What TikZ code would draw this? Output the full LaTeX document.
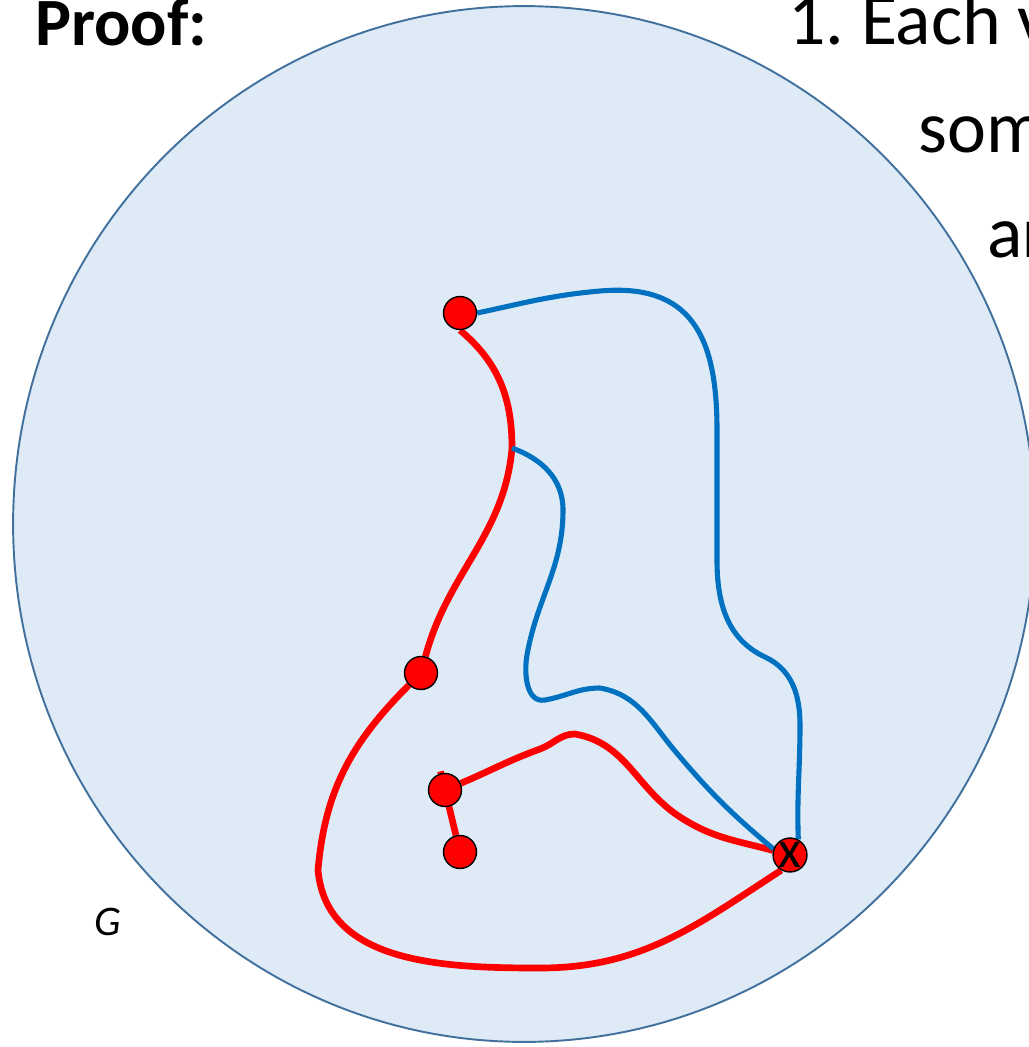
\documentclass[tikz,border=0pt]{standalone}
\usepackage{fontspec}
\setmainfont{Carlito}
\usepackage{tikz}
\usetikzlibrary{positioning, calc}
\definecolor{regionfill}{RGB}{222,235,247}
\definecolor{regionline}{RGB}{65,113,156}
\definecolor{pathblue}{RGB}{0,112,192}
\definecolor{pathred}{RGB}{255,0,0}
\pgfdeclarelayer{back}
\pgfdeclarelayer{paths}
\pgfsetlayers{back,paths,main}

\begin{document}
\begin{tikzpicture}[x=0.02cm, y=-0.02cm,
    vertex/.style={circle, draw=black, line width=0.8pt, fill=pathred, minimum size=0.66cm, inner sep=0pt},
    redpath/.style={pathred, line width=3.8pt},
    bluepath/.style={pathblue, line width=2.9pt},
    heading/.style={anchor=base west, inner sep=0pt, font=\fontsize{42}{46}\selectfont}
]
    \useasboundingbox (0,0) rectangle (1028,1047);

    % the graph G
    \begin{pgfonlayer}{back}
        \draw[regionline, fill=regionfill, line width=1.1pt] (524,524) ellipse [x radius=10.22cm, y radius=10.36cm];
    \end{pgfonlayer}

    \node[heading, font=\fontsize{38.5}{42}\selectfont\bfseries] (proof) at (35,46) {Proof:};
    \node[heading] (claim1) at (788,45) {1.\ Each v};
    \node[heading] (claim2) at (918,153) {som};
    \node[heading] (claim3) at (987,258) {ar};
    \node[font=\fontsize{24}{24}\selectfont\itshape] (glabel) at (108,922) {G};

    % vertices
    \node[vertex] (top) at (460,313) {};
    \node[vertex] (mid) at (421,673) {};
    \node[vertex] (leaf) at (445,790) {};
    \node[vertex] (end) at (460,852) {};
    \node[vertex, font=\fontsize{30}{30}\selectfont] (x) at (790,855) {x};
    \coordinate (fork) at (512,448);

    \begin{pgfonlayer}{paths}
        % red tree
        \draw[redpath] (top.south) to[out=-40,in=90] (fork) to[out=-95,in=75] (mid);
        \draw[redpath] (mid) to[out=-135,in=85] (318,870) to[out=-85,in=180] (540,968) to[out=0,in=213] (x.-120);
        \draw[redpath] (leaf) to[out=23,in=200] (540,749) to[out=20,in=180] (575,734) to[out=-10,in=147] (680,817) to[out=-33,in=165] (x);
        \draw[redpath] (end) -- ($(end.center)!1.3!(leaf.center)$);
        % blue paths
        \draw[bluepath] (top.east) to[out=12,in=185] (600,291) to[out=5,in=90,looseness=1.3] (717,430) -- (717,560) to[out=-90,in=155] (765,657) to[out=-25,in=90] (800,725) to[out=-90,in=92] (x.62);
        \draw[bluepath] (fork) to[out=-20,in=90] (563,510) to[out=-90,in=80] (527,655) to[out=-100,in=190] (545,700) to[out=10,in=180] (600,688) to[out=-10,in=130] (675,751) to[out=-50,in=140] (x.160);
    \end{pgfonlayer}
\end{tikzpicture}
\end{document}
